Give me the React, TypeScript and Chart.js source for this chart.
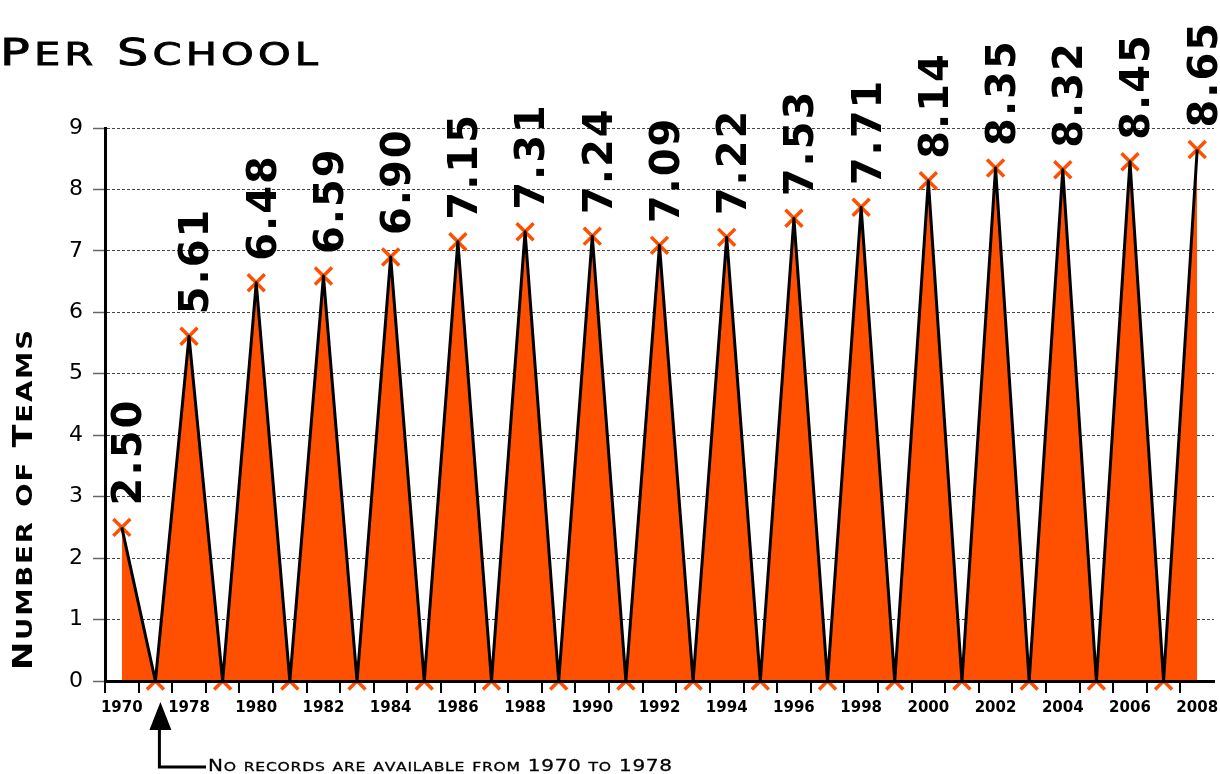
import React, { useEffect, useRef } from 'react';
import { Chart, registerables } from 'chart.js';

Chart.register(...registerables);

// ---- data ----
const categories = [
  '1970', '', '1978', '', '1980', '', '1982', '', '1984', '', '1986', '', '1988', '', '1990', '', '1992', '',
  '1994', '', '1996', '', '1998', '', '2000', '', '2002', '', '2004', '', '2006', '', '2008',
];
const teamsPerSchool = [
  2.50, 0, 5.61, 0, 6.48, 0, 6.59, 0, 6.90, 0, 7.15, 0, 7.31, 0, 7.24, 0, 7.09, 0,
  7.22, 0, 7.53, 0, 7.71, 0, 8.14, 0, 8.35, 0, 8.32, 0, 8.45, 0, 8.65,
];
const yTickValues = [0, 1, 2, 3, 4, 5, 6, 7, 8, 9];
const titleText = 'Per School';
const yAxisTitle = 'Number of Teams';
const footnoteText = 'No records are available from 1970 to 1978';

const ORANGE = '#FF4F00';

type SCOpts = { big: number; small: number; family: string; weight: string; width: number; hScale: number; stroke?: number };

function drawSmallCaps(ctx: CanvasRenderingContext2D, text: string, x: number, y: number, o: SCOpts) {
  const items = Array.from(text).map((ch) => {
    const isSmall = ch !== ch.toUpperCase();
    const size = isSmall ? o.small : o.big;
    const glyph = ch.toUpperCase();
    const font = `${o.weight} ${size}px ${o.family}`;
    ctx.font = font;
    return { glyph, font, w: ctx.measureText(glyph).width * o.hScale };
  });
  const natural = items.reduce((s, it) => s + it.w, 0);
  const gap = items.length > 1 ? (o.width - natural) / (items.length - 1) : 0;
  let cx = x;
  for (const it of items) {
    ctx.save();
    ctx.font = it.font;
    ctx.translate(cx, y);
    ctx.scale(o.hScale, 1);
    ctx.fillText(it.glyph, 0, 0);
    if (o.stroke) {
      ctx.strokeStyle = '#000';
      ctx.lineWidth = o.stroke;
      ctx.strokeText(it.glyph, 0, 0);
    }
    ctx.restore();
    cx += it.w + gap;
  }
}

const overlayPlugin = {
  id: 'overlay',
  afterDraw(chart: any) {
    const ctx: CanvasRenderingContext2D = chart.ctx;
    const meta = chart.getDatasetMeta(0);
    ctx.save();
    ctx.fillStyle = '#000';
    // value labels
    ctx.font = 'bold 40px "DejaVu Sans"';
    (ctx as any).letterSpacing = '2px';
    ctx.textAlign = 'left';
    ctx.textBaseline = 'middle';
    teamsPerSchool.forEach((v, i) => {
      if (v <= 0) return;
      const el = meta.data[i];
      ctx.save();
      ctx.translate(el.x + 9, el.y - 22);
      ctx.rotate(-Math.PI / 2);
      ctx.fillText(v.toFixed(2), 0, 0);
      ctx.restore();
    });
    (ctx as any).letterSpacing = '0px';
    ctx.textBaseline = 'alphabetic';

    // title
    drawSmallCaps(ctx, titleText, 0, 65, { big: 38, small: 32, family: '"DejaVu Sans"', weight: 'normal', width: 318, hScale: 1.3, stroke: 0.9 });

    // y axis title
    ctx.save();
    ctx.translate(32, 670);
    ctx.rotate(-Math.PI / 2);
    drawSmallCaps(ctx, yAxisTitle, 0, 0, { big: 27, small: 22, family: '"DejaVu Sans"', weight: 'bold', width: 340, hScale: 1.25 });
    ctx.restore();

    // footnote
    drawSmallCaps(ctx, footnoteText, 208, 771, { big: 16, small: 12.5, family: '"DejaVu Sans"', weight: 'normal', width: 464, hScale: 1.25, stroke: 0.3 });

    // arrow
    const xs = chart.scales.x;
    const ax = xs.getPixelForValue(1) + 4;
    ctx.beginPath();
    ctx.moveTo(ax + 1, 702);
    ctx.lineTo(ax + 12, 730);
    ctx.lineTo(ax - 10, 730);
    ctx.closePath();
    ctx.fill();
    ctx.strokeStyle = '#000';
    ctx.lineWidth = 3;
    ctx.beginPath();
    ctx.moveTo(ax, 729);
    ctx.lineTo(ax, 767);
    ctx.lineTo(206, 767);
    ctx.stroke();
    ctx.restore();
  },
};

export default function App() {
  const ref = useRef<HTMLCanvasElement>(null);
  useEffect(() => {
    const canvas = ref.current!;
    const chart = new Chart(canvas, {
      type: 'line',
      data: {
        labels: categories,
        datasets: [
          {
            label: 'Teams',
            data: teamsPerSchool,
            borderColor: '#000',
            borderWidth: 3,
            borderJoinStyle: 'round',
            backgroundColor: ORANGE,
            fill: 'origin',
            pointRadius: 0,
            tension: 0,
            order: 1,
          },
          {
            label: 'markers',
            data: teamsPerSchool,
            showLine: false,
            fill: false,
            pointStyle: 'crossRot',
            pointRadius: 12,
            pointBorderColor: ORANGE,
            pointBackgroundColor: ORANGE,
            pointBorderWidth: 3.5,
            clip: false,
            order: 2,
          } as any,
        ],
      },
      options: {
        responsive: false,
        animation: false,
        devicePixelRatio: 1,
        layout: { autoPadding: false, padding: { top: 128, right: 6, left: 0, bottom: 0 } },
        plugins: { legend: { display: false }, tooltip: { enabled: false }, title: { display: false } },
        scales: {
          x: {
            type: 'category',
            offset: true,
            grid: {
              offset: true,
              drawOnChartArea: false,
              drawTicks: true,
              tickLength: 12,
              lineWidth: 2,
              color: (c: any) => (c.type !== 'tick' ? 'rgba(0,0,0,0)' : '#000'),
            },
            border: { display: true, color: '#000', width: 3, z: 1 },
            ticks: {
              autoSkip: false,
              maxRotation: 0,
              minRotation: 0,
              padding: 6,
              color: '#000',
              font: { family: '"DejaVu Sans"', size: 15, weight: 'bold' },
            },
            afterFit: (s: any) => { s.height = 93; s.paddingLeft = 0; s.paddingRight = 0; },
          },
          y: {
            min: 0,
            max: 9,
            afterBuildTicks: (s: any) => { s.ticks = yTickValues.map((v) => ({ value: v })); },
            grid: {
              color: '#444',
              lineWidth: 1,
              tickLength: 12,
              tickColor: '#666',
              tickWidth: 1.5,
            },
            border: { display: true, color: '#000', width: 3, dash: [3, 2] },
            ticks: {
              padding: 10,
              color: '#000',
              font: { family: '"DejaVu Sans"', size: 22 },
            },
            afterFit: (s: any) => { s.width = 105; s.paddingTop = 0; s.paddingBottom = 0; },
          },
        },
      },
      plugins: [overlayPlugin],
    });
    return () => chart.destroy();
  }, []);
  return (
    <div style={{ position: 'fixed', left: 0, top: 0, width: 1220, height: 774, background: '#fff' }}>
      <canvas ref={ref} width={1220} height={774} style={{ display: 'block', width: 1220, height: 774 }} />
    </div>
  );
}
